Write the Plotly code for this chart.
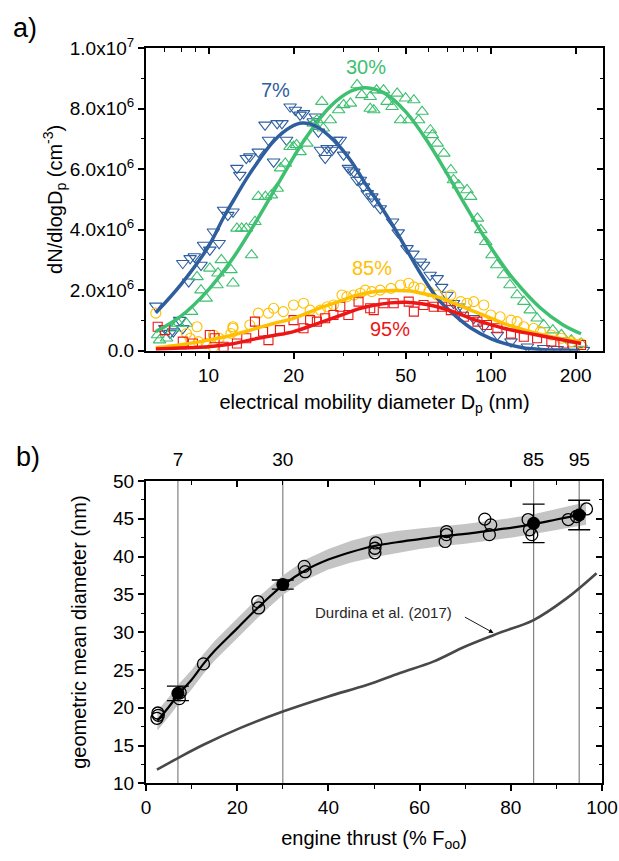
import math
import plotly.graph_objects as go

# ---------------- Panel a data (N in units of 1e6 cm^-3) ----------------
blue_d = [6.5, 7.0, 7.3, 7.5, 7.9, 8.1, 8.1, 8.5, 8.6, 8.9, 9.4, 9.6, 10.1, 10.4, 10.9, 11.3, 11.7, 12.2, 12.6, 12.9,
          13.6, 14.0, 15.0, 15.85, 16.3, 17.0, 17.5, 18.2, 18.9, 19.45, 20.3, 21.1, 21.7, 23.5, 23.9, 24.5, 24.9, 25.9,
          26.3, 27.4, 27.7, 28.5, 29.3, 30.1, 31.3, 31.8, 32.7, 33.6, 34.5, 35.4, 36.5, 37.9, 38.5, 40.6, 44.9, 47,
          50.5, 53, 56.3, 57.8, 61, 64.6, 67, 70, 73.8, 77, 80.3, 87, 94.5, 105.6, 118, 134.9, 154, 172, 197, 213]
blue_n = [1.48, 0.74, 0.58, 0.63, 1.01, 0.74, 2.89, 2.28, 3.05, 3.11, 2.83, 3.49, 3.33, 3.93, 3.55, 4.65, 4.48, 4.59,
          6.03, 5.8, 6.36, 6.41, 6.57, 7.46, 6.96, 6.24, 7.51, 7.51, 6.96, 8.06, 7.95, 7.79, 7.84, 7.57, 7.73, 7.23,
          6.63, 6.36, 6.69, 6.63, 6.69, 6.96, 6.96, 6.47, 6.03, 5.97, 5.91, 5.64, 5.64, 5.42, 5.2, 5.09, 4.92, 4.7,
          4.26, 3.9, 3.38, 3.2, 2.94, 2.83, 2.5, 2.39, 2.1, 1.84, 1.57, 1.45, 1.34, 1.07, 0.79, 0.52, 0.3, 0.13, 0.08,
          0.05, 0.04, 0.02]
blue_fit_d = [6.5, 8, 10, 11.3, 12.5, 14, 17, 19.5, 21.5, 24.2, 27.7, 31.8, 36.5, 39.4, 44.9, 49.3, 56, 64.6, 75, 85,
              100, 111, 130, 146, 170, 205]
blue_fit_n = [1.25, 2.2, 3.45, 4.4, 5.1, 5.85, 6.92, 7.38, 7.52, 7.4, 6.96, 6.3, 5.42, 4.98, 4.15, 3.49, 2.6, 1.74,
              1.15, 0.75, 0.4, 0.25, 0.1, 0.05, 0.02, 0.01]

green_d = [6.6, 6.7, 7.1, 7.5, 7.8, 8.35, 8.7, 9.1, 9.4, 9.8, 10.1, 10.7, 10.8, 11.1, 12.0, 12.2, 12.6, 13.1, 13.6,
           14.2, 14.6, 15.0, 15.9, 16.7, 17.5, 18.0, 18.7, 19.45, 20.0, 20.5, 21.1, 22.3, 23.5, 24.2, 25.2, 25.5, 27.0,
           28.9, 30.1, 31.8, 33.6, 34.9, 37.4, 37.4, 38.5, 39.4, 41.7, 42.9, 44.7, 46.6, 47.9, 49.9, 51.2, 53.4, 55.5,
           57.1, 61.1, 62.1, 64.6, 68.2, 72.2, 73.8, 76.9, 82.4, 84.9, 89.7, 92.2, 96, 101, 105, 111, 117, 124, 131,
           138, 146, 154, 166, 178, 193, 209]
green_n = [0.52, 0.35, 0.41, 0.74, 0.9, 0.9, 1.29, 2.44, 2.0, 1.73, 2.72, 2.17, 2.56, 3.0, 2.67, 2.23, 4.04, 4.04,
           4.04, 3.16, 4.26, 5.09, 5.09, 5.14, 5.36, 6.03, 6.19, 6.74, 6.74, 6.8, 6.57, 6.85, 7.51, 7.62, 8.23, 7.35,
           7.62, 7.95, 8.12, 8.17, 8.78, 8.45, 8.39, 8.0, 7.95, 8.61, 8.61, 8.23, 8.06, 8.5, 7.62, 8.34, 7.62, 8.28,
           7.62, 7.9, 7.29, 7.13, 6.85, 6.52, 5.97, 5.64, 5.47, 5.31, 5.09, 4.37, 3.99, 3.6, 3.16, 2.83, 2.5, 2.17,
           1.84, 1.62, 1.34, 1.07, 0.85, 0.68, 0.52, 0.35, 0.24]
green_fit_d = [6.5, 8, 10, 12, 15, 18, 22, 27, 32, 36, 42, 50, 60, 70, 80, 92, 100, 111, 120, 150, 180, 209]
green_fit_n = [0.63, 1.15, 2.02, 2.96, 4.39, 5.66, 7.0, 8.07, 8.58, 8.69, 8.51, 7.89, 6.88, 5.85, 4.92, 3.96, 3.42,
               2.8, 2.38, 1.41, 0.86, 0.56]

yellow_d = [6.5, 8.35, 8.6, 9.1, 9.2, 9.8, 10.4, 10.4, 10.9, 12.0, 12.2, 12.2, 14.0, 15.0, 16.3, 17.0, 18.4, 20, 21.7,
            22.9, 24.9, 26.3, 27.7, 29.7, 30.9, 32.7, 34.5, 35.9, 37.9, 40.6, 44.3, 47.9, 51.2, 53.4, 56.3, 60.4, 64.6,
            72.2, 78.3, 82.4, 87, 94.5, 100, 108, 118, 124, 131, 142, 150, 164, 178, 193, 209]
yellow_n = [1.24, 0.57, 0.41, 0.79, 0.3, 0.24, 0.52, 0.13, 0.41, 0.57, 0.74, 0.79, 0.85, 1.24, 1.24, 1.4, 1.29, 1.51,
            1.57, 1.34, 1.34, 1.45, 1.51, 1.84, 1.78, 1.84, 1.9, 2.0, 1.95, 2.0, 2.06, 2.17, 2.23, 2.11, 2.06, 1.95,
            1.84, 1.84, 1.62, 1.57, 1.62, 1.51, 1.18, 1.12, 1.01, 0.96, 0.79, 0.74, 0.63, 0.52, 0.41, 0.3, 0.24]
yellow_fit_d = [6.5, 8, 10, 12, 14.8, 17, 20, 24.6, 29.3, 33, 38.5, 45, 52, 58, 64.6, 75, 85, 100, 111, 128, 146, 170,
                209]
yellow_fit_n = [0.1, 0.2, 0.35, 0.5, 0.74, 0.9, 1.07, 1.4, 1.64, 1.82, 1.95, 1.99, 1.97, 1.88, 1.78, 1.55, 1.34, 1.08,
                0.9, 0.72, 0.57, 0.43, 0.3]

red_d = [6.6, 7.0, 8.1, 8.8, 10.1, 10.5, 11.3, 12.6, 13.6, 14.6, 15.6, 16.3, 17.9, 20, 21.7, 22.9, 24.2, 25.9, 27.7,
         29.3, 31.3, 34.0, 37.4, 38.5, 41.7, 45.3, 51.2, 53.4, 57.8, 62.8, 67.3, 72.2, 80.3, 89.7, 97, 105.6, 118, 131,
         146, 164, 181, 209]
red_n = [0.79, 0.68, 0.3, 0.24, 0.52, 0.41, 0.13, 0.24, 0.41, 0.96, 0.63, 0.35, 0.68, 1.01, 0.74, 1.01, 0.96, 1.07,
         1.18, 1.45, 1.18, 1.62, 1.4, 1.34, 1.57, 1.57, 1.62, 1.29, 1.51, 1.45, 1.45, 1.34, 1.12, 0.96, 0.85, 0.74,
         0.57, 0.46, 0.41, 0.3, 0.24, 0.19]
red_fit_d = [6.5, 8, 10, 12, 14.8, 17, 20, 24, 29, 34, 38.5, 44, 50, 57, 64.6, 75, 85, 100, 111, 128, 146, 175, 209]
red_fit_n = [0.06, 0.09, 0.13, 0.22, 0.4, 0.5, 0.63, 0.88, 1.15, 1.38, 1.5, 1.58, 1.6, 1.55, 1.45, 1.26, 1.07, 0.86,
             0.74, 0.62, 0.52, 0.38, 0.24]

series_labels = ["7%", "30%", "85%", "95%"]
label_d = [17.2, 36.2, 37.8, 43.8]
label_n = [8.6, 9.38, 2.72, 0.71]

a_ytick_vals = [0, 2, 4, 6, 8, 10]
a_ytick_text = ["0.0", "2.0x10<sup>6</sup>", "4.0x10<sup>6</sup>", "6.0x10<sup>6</sup>", "8.0x10<sup>6</sup>",
                "1.0x10<sup>7</sup>"]
a_xtick_vals = [10, 20, 50, 100, 200]
a_xminor_vals = [7, 8, 9, 30, 40, 60, 70, 80, 90]

# ---------------- Panel b data ----------------
thrust_levels = [7, 30, 85, 95]
gmd_mean = [21.9, 36.3, 44.4, 45.5]
gmd_err = [0.95, 0.6, 2.55, 1.95]

thrust_pts = [2.4, 2.6, 2.7, 7.3, 7.5, 12.6, 24.5, 24.7, 34.7, 34.9, 50.2, 50.2, 50.4, 65.6, 65.9, 65.9, 74.3, 75.3,
              75.6, 83.8, 84.1, 84.6, 92.6, 94.4, 96.6]
gmd_pts = [18.6, 19.3, 19.0, 21.2, 22.0, 25.8, 34.05, 33.2, 38.7, 38.0, 40.5, 41.1, 41.8, 42.0, 42.9, 43.3, 44.96,
           42.9, 44.2, 44.9, 43.55, 42.9, 44.9, 45.3, 46.3]

fit_x = [2.5, 5, 7, 10, 12.6, 15, 20, 25, 30, 35, 40, 45, 50, 55, 60, 65, 70, 75, 80, 85, 90, 95, 96.5]
fit_y = [18.3, 20.1, 21.7, 23.7, 25.8, 27.5, 30.5, 33.5, 36.2, 38.2, 39.6, 40.6, 41.4, 41.9, 42.3, 42.7, 43.0, 43.4,
         43.8, 44.3, 44.9, 45.5, 45.7]
band_lo = [17.0, 18.8, 20.4, 22.4, 24.5, 26.2, 29.2, 32.2, 34.9, 36.9, 38.3, 39.2, 39.9, 40.5, 41.0, 41.4, 41.7,
           42.1, 42.5, 43.0, 43.5, 44.0, 44.2]
band_hi = [19.6, 21.4, 23.0, 25.0, 27.1, 28.8, 31.8, 34.8, 37.5, 39.6, 41.0, 42.1, 42.9, 43.4, 43.7, 44.0, 44.3,
           44.7, 45.1, 45.6, 46.3, 47.0, 47.2]

durdina_x = [2.4, 7.5, 12.6, 20.6, 30, 40, 48.4, 55.7, 63, 70, 77.5, 85, 92.3, 98.8]
durdina_y = [11.8, 13.5, 15.1, 17.3, 19.5, 21.5, 23.0, 24.6, 26.1, 28.1, 29.9, 31.6, 34.5, 37.8]

# ---------------- Styling ----------------
FONT = "Liberation Sans, Arial, sans-serif"
C_BLUE = "rgb(46,94,158)"
C_GREEN = "rgb(62,192,112)"
C_YELLOW = "rgb(255,192,0)"
C_RED = "rgb(236,22,22)"
SCALE = 1e6

fig = go.Figure()

series = [
    (blue_d, blue_n, blue_fit_d, blue_fit_n, C_BLUE, "triangle-down-open", 11),
    (green_d, green_n, green_fit_d, green_fit_n, C_GREEN, "triangle-up-open", 11),
    (yellow_d, yellow_n, yellow_fit_d, yellow_fit_n, C_YELLOW, "circle-open", 10),
    (red_d, red_n, red_fit_d, red_fit_n, C_RED, "square-open", 9),
]
for d, n, fd, fn, col, sym, sz in series:
    fig.add_trace(go.Scatter(x=d, y=[v * SCALE for v in n], mode="markers",
                             marker=dict(symbol=sym, size=sz, color=col, line=dict(width=1.1, color=col)),
                             xaxis="x", yaxis="y", showlegend=False))
for (d, n, fd, fn, col, sym, sz) in [series[1], series[0], series[2], series[3]]:
    fig.add_trace(go.Scatter(x=fd, y=[v * SCALE for v in fn], mode="lines", line=dict(color=col, width=3.5,
                             shape="spline"), xaxis="x", yaxis="y", showlegend=False))

fig.add_trace(go.Scatter(x=[None], y=[None], xaxis="x2", yaxis="y2", showlegend=False, hoverinfo="skip"))

# ---------------- Panel b traces ----------------
fig.add_trace(go.Scatter(x=fit_x, y=band_lo, mode="lines", line=dict(width=0, color="rgba(0,0,0,0)"),
                         xaxis="x3", yaxis="y3", showlegend=False, hoverinfo="skip"))
fig.add_trace(go.Scatter(x=fit_x, y=band_hi, mode="lines", line=dict(width=0, color="rgba(0,0,0,0)"),
                         fill="tonexty", fillcolor="rgb(196,196,196)", xaxis="x3", yaxis="y3", showlegend=False))
fig.add_trace(go.Scatter(x=durdina_x, y=durdina_y, mode="lines", line=dict(color="rgb(72,72,72)", width=2.6,
                         shape="spline"), xaxis="x3", yaxis="y3", showlegend=False))
fig.add_trace(go.Scatter(x=fit_x, y=fit_y, mode="lines", line=dict(color="black", width=2.2, shape="spline"),
                         xaxis="x3", yaxis="y3", showlegend=False))
fig.add_trace(go.Scatter(x=thrust_pts, y=gmd_pts, mode="markers",
                         marker=dict(symbol="circle-open", size=12, color="black", line=dict(width=1.3)),
                         xaxis="x3", yaxis="y3", showlegend=False))
fig.add_trace(go.Scatter(x=thrust_levels, y=gmd_mean, mode="markers",
                         marker=dict(symbol="circle", size=13, color="black"),
                         error_y=dict(type="data", array=gmd_err, visible=True, color="black", thickness=1.3,
                                      width=11),
                         xaxis="x3", yaxis="y3", showlegend=False))
fig.add_trace(go.Scatter(x=[None], y=[None], xaxis="x4", yaxis="y4", showlegend=False, hoverinfo="skip"))
fig.add_trace(go.Scatter(x=[None], y=[None], xaxis="x5", yaxis="y4", showlegend=False, hoverinfo="skip"))

# ---------------- Layout ----------------
XA = [146 / 619, 603 / 619]
YA = [1 - 350.7 / 861, 1 - 48 / 861]
XB = [146 / 619, 602 / 619]
YB = [1 - 783.3 / 861, 1 - 481 / 861]
tickfont = dict(family=FONT, size=19, color="black")
titlefont = dict(family=FONT, size=20, color="black")
a_range = [math.log10(6), math.log10(250)]

common = dict(showgrid=False, zeroline=False, showline=True, linecolor="black", linewidth=2,
              tickcolor="black", tickwidth=1.6, tickfont=tickfont, automargin=False)
minor_out = dict(ticks="outside", ticklen=3.5, tickcolor="black", tickwidth=1.4)
minor_in = dict(ticks="inside", ticklen=3.5, tickcolor="black", tickwidth=1.4)

layout = dict(
    width=619, height=861, margin=dict(l=0, r=0, t=0, b=0, autoexpand=False),
    paper_bgcolor="white", plot_bgcolor="white", showlegend=False,
    font=dict(family=FONT, color="black"),
    xaxis=dict(domain=XA, anchor="y", type="log", range=a_range, tickmode="array", tickvals=a_xtick_vals,
               ticktext=[str(v) for v in a_xtick_vals], ticks="outside", ticklen=6,
               minor=dict(tickmode="array", tickvals=a_xminor_vals, **minor_out),
               title=dict(text="electrical mobility diameter D<sub>p</sub> (nm)", font=titlefont, standoff=10),
               **common),
    yaxis=dict(domain=YA, anchor="x", range=[0, 10 * SCALE], tickmode="array",
               tickvals=[v * SCALE for v in a_ytick_vals], ticktext=a_ytick_text, ticks="outside", ticklen=6,
               minor=dict(dtick=SCALE, **minor_out),
               title=dict(text="dN/dlogD<sub>p</sub> (cm<sup>-3</sup>)", font=titlefont, standoff=2),
               **common),
    xaxis2=dict(overlaying="x", anchor="y", side="top", type="log", range=a_range, tickmode="array",
                tickvals=a_xtick_vals, showticklabels=False, ticks="inside", ticklen=6,
                minor=dict(tickmode="array", tickvals=a_xminor_vals, **minor_in),
                **common),
    yaxis2=dict(overlaying="y", anchor="x", side="right", range=[0, 10 * SCALE], tickmode="array",
                tickvals=[v * SCALE for v in a_ytick_vals], showticklabels=False, ticks="inside", ticklen=6,
                minor=dict(dtick=SCALE, **minor_in),
                **common),
    xaxis3=dict(domain=XB, anchor="y3", range=[0, 100], dtick=20, ticks="outside", ticklen=6,
                minor=dict(dtick=10, **minor_out),
                title=dict(text="engine thrust (% F<sub>oo</sub>)", font=titlefont, standoff=14),
                **common),
    yaxis3=dict(domain=YB, anchor="x3", range=[10, 50], dtick=5, ticks="outside", ticklen=6,
                minor=dict(dtick=2.5, **minor_out),
                title=dict(text="geometric mean diameter (nm)", font=titlefont, standoff=21),
                **common),
    xaxis4=dict(overlaying="x3", anchor="y3", side="top", range=[0, 100], tickmode="array",
                tickvals=thrust_levels, ticktext=[str(v) for v in thrust_levels], ticks="outside", ticklen=5,
                showgrid=False, zeroline=False, showline=True, linecolor="black", linewidth=2,
                tickcolor="rgba(0,0,0,0)", tickfont=tickfont, automargin=False),
    xaxis5=dict(overlaying="x3", anchor="y3", side="top", range=[0, 100], dtick=20, showticklabels=False,
                ticks="inside", ticklen=6, minor=dict(dtick=10, **minor_in), **common),
    yaxis4=dict(overlaying="y3", anchor="x3", side="right", range=[10, 50], dtick=5, showticklabels=False,
                ticks="inside", ticklen=6, minor=dict(dtick=2.5, **minor_in), **common),
)
fig.update_layout(**layout)

for lv in thrust_levels:
    fig.add_shape(type="line", xref="x3", yref="y3 domain", x0=lv, x1=lv, y0=0, y1=1,
                  line=dict(color="rgb(130,130,130)", width=1.2), layer="below")

label_cols = [C_BLUE, C_GREEN, C_YELLOW, C_RED]
for txt, d, n, col in zip(series_labels, label_d, label_n, label_cols):
    fig.add_annotation(x=math.log10(d), y=n * SCALE, xref="x", yref="y", text=txt, showarrow=False,
                       font=dict(family=FONT, size=20, color=col))

fig.add_annotation(x=25 / 619, y=1 - 28 / 861, xref="paper", yref="paper", text="a)", showarrow=False,
                   xanchor="center", yanchor="middle", font=dict(family=FONT, size=27, color="black"))
fig.add_annotation(x=28 / 619, y=1 - 457 / 861, xref="paper", yref="paper", text="b)", showarrow=False,
                   xanchor="center", yanchor="middle", font=dict(family=FONT, size=27, color="black"))

fig.add_annotation(x=76.2, y=29.9, ax=69.6, ay=32.1, xref="x3", yref="y3", axref="x3", ayref="y3",
                   text="", showarrow=True, arrowhead=2, arrowsize=1, arrowwidth=0.9, arrowcolor="black")
fig.add_annotation(x=52.0, y=32.6, xref="x3", yref="y3", text="Durdina et al. (2017)", showarrow=False,
                   font=dict(family=FONT, size=15, color="rgb(40,40,40)"))

fig.write_html("out.html")
